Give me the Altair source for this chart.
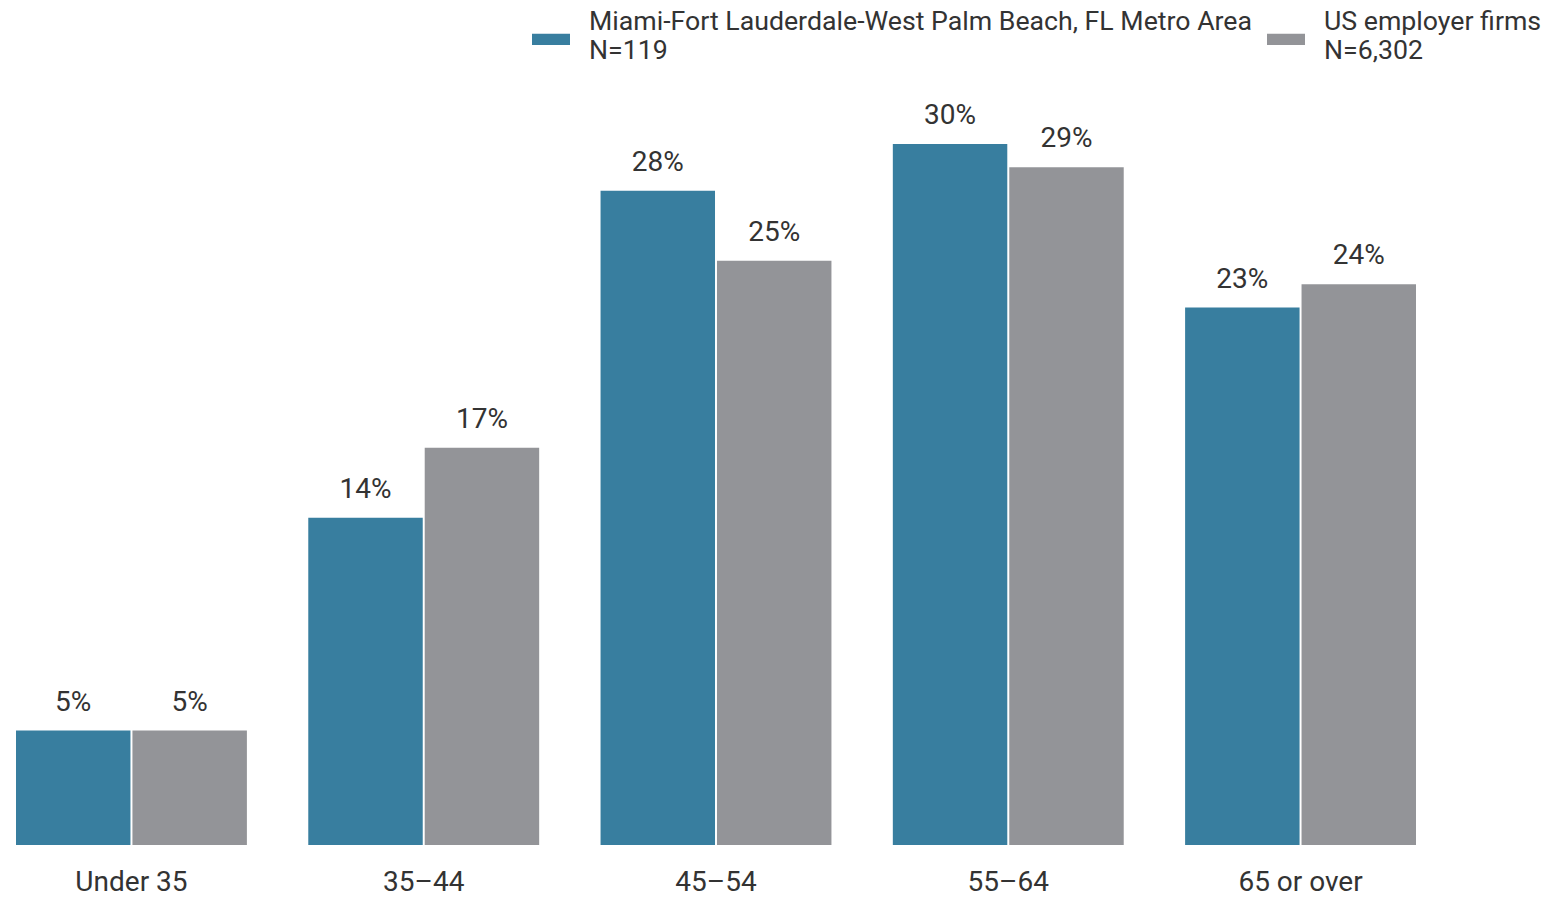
import altair as alt
import pandas as pd

categories = ["Under 35", "35\u201344", "45\u201354", "55\u201364", "65 or over"]
miami_values = [4.9, 14.0, 28.0, 30.0, 23.0]
us_values = [4.9, 17.0, 25.0, 29.0, 24.0]
series_names = ["Miami-Fort Lauderdale-West Palm Beach, FL Metro Area", "US employer firms"]
series_n = ["N=119", "N=6,302"]
colors = ["#387E9F", "#939498"]

series_labels = [f"{s}|{n}" for s, n in zip(series_names, series_n)]
rows = []
for i, c in enumerate(categories):
    rows.append({"category": c, "series": series_labels[0], "value": miami_values[i],
                 "label": f"{round(miami_values[i])}%"})
    rows.append({"category": c, "series": series_labels[1], "value": us_values[i],
                 "label": f"{round(us_values[i])}%"})
df = pd.DataFrame(rows)

FONT = "Roboto"
TEXT = "#333333"

x = alt.X("category:N", sort=categories, title=None,
          scale=alt.Scale(paddingInner=0.21, paddingOuter=0),
          axis=alt.Axis(labelAngle=0, domain=False, ticks=False, labelFontSize=28,
                        labelFont=FONT, labelColor=TEXT, labelPadding=23))
xo = alt.XOffset("series:N", sort=series_labels,
                 scale=alt.Scale(paddingInner=0.017, paddingOuter=0))
y = alt.Y("value:Q", axis=None, scale=alt.Scale(domain=[0, 30], nice=False, zero=True))

bars = alt.Chart(df).mark_bar().encode(
    x=x, xOffset=xo, y=y,
    color=alt.Color("series:N", sort=series_labels,
                    scale=alt.Scale(domain=series_labels, range=colors),
                    legend=alt.Legend(
                        title=None, orient="none", direction="horizontal",
                        legendX=516, legendY=-141,
                        labelExpr="split(datum.label, '|')",
                        labelFont=FONT, labelFontSize=26.7, labelColor=TEXT,
                        labelLimit=0, labelOffset=19, columnPadding=14,
                        symbolType="M-1,0.6L1,0.6L1,1.2L-1,1.2Z", symbolSize=1444,
                        symbolStrokeWidth=0, padding=0)),
)

texts = alt.Chart(df).mark_text(baseline="alphabetic", dy=-20, fontSize=28, font=FONT,
                                color=TEXT).encode(
    x=x, xOffset=xo, y=y, text="label:N")

chart = alt.layer(bars, texts).properties(
    width=1400, height=701,
    padding={"left": 8, "top": 136, "right": 126, "bottom": 48},
    autosize=alt.AutoSizeParams(type="none"),
).configure_view(stroke=None)

chart.save("out.html", embed_options={"renderer": "svg", "actions": False})
